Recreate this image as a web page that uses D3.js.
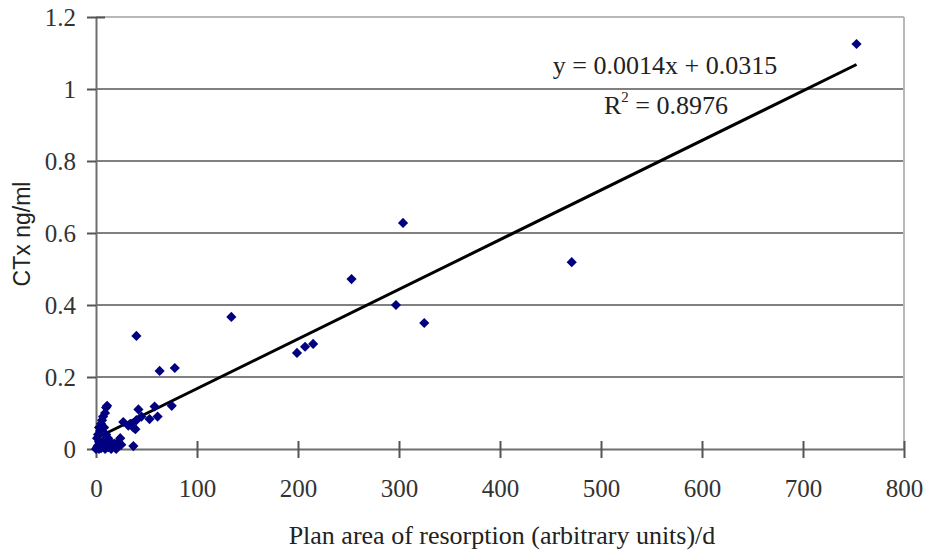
<!DOCTYPE html>
<html>
<head>
<meta charset="utf-8">
<script src="https://cdn.jsdelivr.net/npm/d3@7"></script>
<style>
  body { margin: 0; background: #fff; }
  .tick-label { font-family: "Liberation Serif", "Times New Roman", serif; font-size: 25px; fill: #333; }
  .title { font-family: "Liberation Serif", "Times New Roman", serif; font-size: 26px; fill: #222; }
  .ytitle { font-family: "Liberation Sans", Arial, sans-serif; font-size: 23px; fill: #222; }
</style>
</head>
<body>
<div id="vis"></div>
<script>
// Plan area of resorption (arbitrary units)/d
var xValues = [0, 1, 2, 3, 1, 2, 4, 3, 5, 6, 7, 9, 10, 11, 8, 10, 12, 14, 16, 18, 20, 22, 25, 6, 8, 5, 12, 15, 3, 9, 20, 24,
               27, 32, 34, 37, 39, 40, 42, 37, 53, 58, 61, 75, 45, 63, 78, 40,
               134, 199, 207, 215, 253, 297, 304, 325, 471, 753];
// CTx ng/ml
var yValues = [0, 0.005, 0.01, 0.02, 0.03, 0.04, 0.05, 0.06, 0.07, 0.08, 0.09, 0.1, 0.115, 0.12, 0.06, 0.04, 0.03, 0.02, 0.01, 0.015, 0.008, 0.02, 0.012, 0.015, 0.025, 0.002, 0.005, 0, 0, 0, 0, 0.03,
               0.075, 0.065, 0.07, 0.06, 0.055, 0.08, 0.11, 0.008, 0.083, 0.118, 0.09, 0.12, 0.09, 0.217, 0.225, 0.314,
               0.367, 0.267, 0.284, 0.292, 0.472, 0.40, 0.628, 0.35, 0.519, 1.125];
var xTicks = [0, 100, 200, 300, 400, 500, 600, 700, 800];
var yTicks = [0, 0.2, 0.4, 0.6, 0.8, 1, 1.2];
var equationText = 'y = 0.0014x + 0.0315';
var r2Value = '0.8976';

var width = 930, height = 552;
var margin = { top: 17, right: 26, bottom: 103, left: 96 };
var drawWidth = width - margin.left - margin.right,
    drawHeight = height - margin.top - margin.bottom;

var svg = d3.select('#vis').append('svg')
    .attr('width', width)
    .attr('height', height);

var g = svg.append('g')
    .attr('transform', 'translate(' + margin.left + ',' + margin.top + ')');

var xScale = d3.scaleLinear().domain([0, 800]).range([0, drawWidth]);
var yScale = d3.scaleLinear().domain([0, 1.2]).range([drawHeight, 0]);

// horizontal gridlines
g.selectAll('.grid').data(yTicks.filter(function(d) { return d > 0; }))
    .enter().append('line')
    .attr('x1', 0).attr('x2', drawWidth)
    .attr('y1', function(d) { return yScale(d); })
    .attr('y2', function(d) { return yScale(d); })
    .attr('stroke', function(d) { return d === 1.2 ? '#b8b8b8' : '#808080'; })
    .attr('stroke-width', 2);

// right border
g.append('line')
    .attr('x1', drawWidth).attr('x2', drawWidth)
    .attr('y1', 0).attr('y2', drawHeight)
    .attr('stroke', '#b8b8b8').attr('stroke-width', 2);

// axes
var xAxis = d3.axisBottom(xScale).tickValues(xTicks).tickSize(0).tickFormat('');
var yAxis = d3.axisLeft(yScale).tickValues(yTicks).tickSize(0).tickFormat('');

var xAxisG = g.append('g').attr('transform', 'translate(0,' + drawHeight + ')').call(xAxis);
var yAxisG = g.append('g').call(yAxis);
[xAxisG, yAxisG].forEach(function(a) {
    a.select('.domain').attr('stroke', '#6e6e6e').attr('stroke-width', 2);
});

// crossing tick marks
xAxisG.selectAll('.tick').append('line')
    .attr('y1', -8).attr('y2', 9)
    .attr('stroke', '#555').attr('stroke-width', 2);
yAxisG.selectAll('.tick').append('line')
    .attr('x1', -9).attr('x2', function(d) { return d === 1.2 ? 9 : 0; })
    .attr('stroke', '#555').attr('stroke-width', 2);

xAxisG.selectAll('.tick').append('text')
    .attr('class', 'tick-label')
    .attr('y', 48)
    .attr('text-anchor', 'middle')
    .text(function(d) { return d; });
yAxisG.selectAll('.tick').append('text')
    .attr('class', 'tick-label')
    .attr('x', -20)
    .attr('dy', '0.35em')
    .attr('text-anchor', 'end')
    .text(function(d) { return d; });

// linear regression trendline from the data
var n = xValues.length;
var mx = d3.mean(xValues), my = d3.mean(yValues);
var sxy = 0, sxx = 0;
for (var i = 0; i < n; i++) {
    sxy += (xValues[i] - mx) * (yValues[i] - my);
    sxx += (xValues[i] - mx) * (xValues[i] - mx);
}
var slope = sxy / sxx, intercept = my - slope * mx;
var xMax = d3.max(xValues);
var trend = [[0, intercept], [xMax, intercept + slope * xMax]];

g.append('path')
    .datum(trend)
    .attr('fill', 'none')
    .attr('stroke', '#000')
    .attr('stroke-width', 3)
    .attr('d', d3.line()
        .x(function(d) { return xScale(d[0]); })
        .y(function(d) { return yScale(d[1]); }));

// points
var diamond = d3.symbol().type(d3.symbolDiamond2).size(66);
g.selectAll('.pt').data(xValues)
    .enter().append('path')
    .attr('transform', function(d, i) { return 'translate(' + xScale(d) + ',' + yScale(yValues[i]) + ')'; })
    .attr('d', diamond)
    .attr('fill', '#000080');

// equation labels
svg.append('text')
    .attr('class', 'title')
    .attr('x', 665).attr('y', 74)
    .attr('text-anchor', 'middle')
    .text(equationText);
var r2 = svg.append('text')
    .attr('class', 'title')
    .attr('x', 666).attr('y', 114)
    .attr('text-anchor', 'middle');
r2.append('tspan').text('R');
r2.append('tspan').attr('font-size', 15).attr('dy', -12).text('2');
r2.append('tspan').attr('dy', 12).text(' = ' + r2Value);

// axis titles
svg.append('text')
    .attr('class', 'title')
    .attr('x', 502).attr('y', 544)
    .attr('text-anchor', 'middle')
    .text('Plan area of resorption (arbitrary units)/d');
svg.append('text')
    .attr('class', 'ytitle')
    .attr('transform', 'translate(30,' + 234 + ') rotate(-90)')
    .attr('text-anchor', 'middle')
    .text('CTx ng/ml');
</script>
</body>
</html>
